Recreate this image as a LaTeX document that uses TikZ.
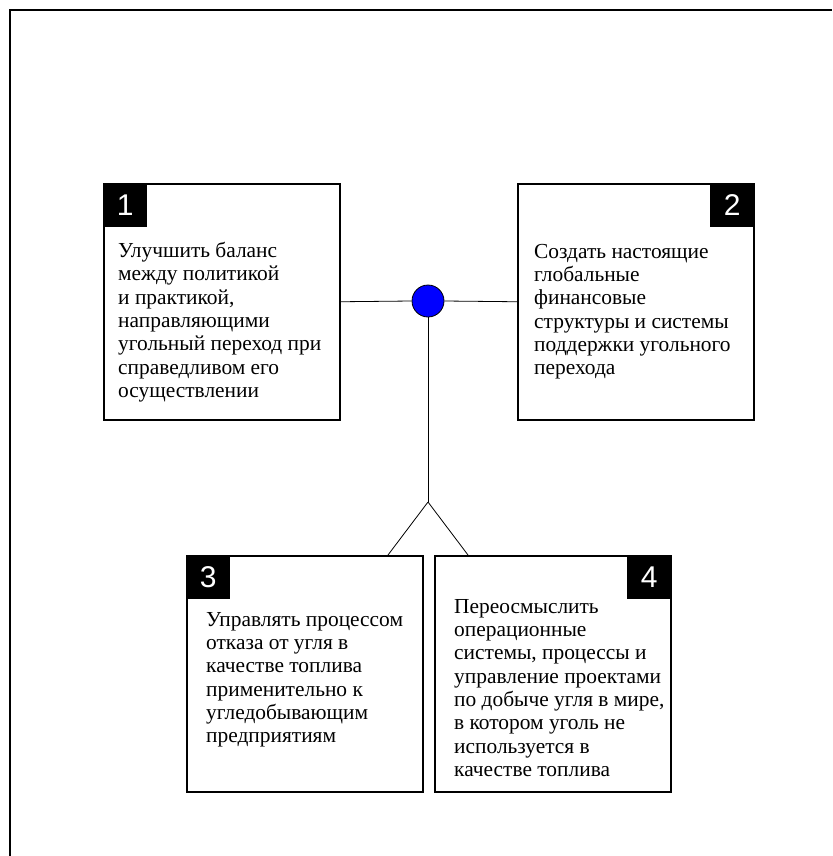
\documentclass[tikz,border=0pt]{standalone}
\usepackage{fontspec}
\setmainfont{Liberation Serif}
\newfontfamily\tagfont{Liberation Sans}
\begin{document}
\begin{tikzpicture}[x=1pt,y=-1pt,
  box/.style={draw, line width=1.5pt, minimum width=236pt, minimum height=236pt, inner sep=0pt, anchor=north west},
  tagbox/.style={fill=black, text=white, font=\tagfont\fontsize{30}{30}\selectfont, minimum size=44pt, inner sep=0pt},
  txt/.style={anchor=north west, inner sep=0pt, align=left, font=\fontsize{21.4}{23.3}\selectfont},
  link/.style={line width=0.8pt}]
\useasboundingbox (0,0) rectangle (832,856);
\fill[white] (0,0) rectangle (832,856);
\draw[line width=2.2pt] (10,856) -- (10,10) -- (832,10);

\node[box] (b1) at (103,183) {};
\node[box] (b2) at (517,183) {};
\node[box] (b3) at (186,555) {};
\node[box] (b4) at (434,555) {};

\node[tagbox, anchor=north west] (t1) at (b1.north west) {1};
\node[tagbox, anchor=north east] (t2) at (b2.north east) {2};
\node[tagbox, anchor=north west] (t3) at (b3.north west) {3};
\node[tagbox, anchor=north east] (t4) at (b4.north east) {4};

\node[txt] (x1) at (118,242) {Улучшить баланс\\между политикой\\и практикой,\\направляющими\\угольный переход при\\справедливом его\\осуществлении};
\node[txt] (x2) at (534,244) {Создать настоящие\\глобальные\\финансовые\\структуры и системы\\поддержки угольного\\перехода};
\node[txt] (x3) at (206,612) {Управлять процессом\\отказа от угля в\\качестве топлива\\применительно к\\угледобывающим\\предприятиям};
\node[txt] (x4) at (454,599) {Переосмыслить\\операционные\\системы, процессы и\\управление проектами\\по добыче угля в мире,\\в котором уголь не\\используется в\\качестве топлива};

\node[circle, draw, fill=blue, line width=0.8pt, minimum size=32pt, inner sep=0pt] (c) at (428,301) {};
\coordinate (j) at (428,502);
\coordinate (j3) at (388,555);
\coordinate (j4) at (468,555);

\draw[link] (b1.east) -- (c.west);
\draw[link] (c.east) -- (b2.west);
\draw[link] (c.south) -- (j);
\draw[link] (j) -- (j3);
\draw[link] (j) -- (j4);
\end{tikzpicture}
\end{document}
